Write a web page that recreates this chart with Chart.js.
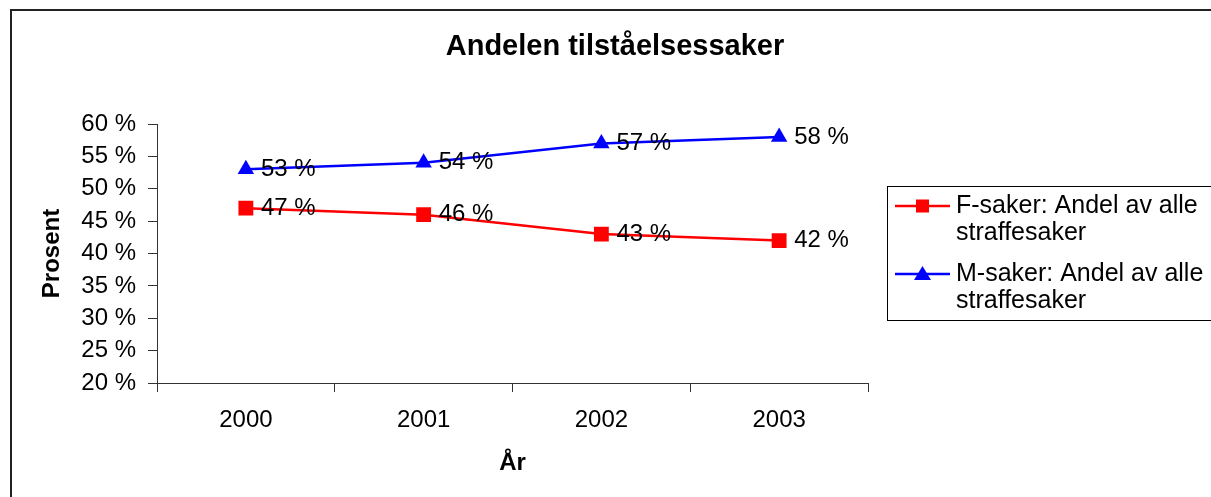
<!DOCTYPE html>
<html>
<head>
<meta charset="utf-8">
<script src="https://cdn.jsdelivr.net/npm/chart.js@4.4.1/dist/chart.umd.min.js"></script>
<style>
  html, body { margin: 0; padding: 0; background: #fff; overflow: hidden; }
  #wrap { width: 1211px; height: 497px; }
</style>
</head>
<body>
<div id="wrap"><canvas id="c" width="1211" height="497"></canvas></div>
<script>
const chartTitle = 'Andelen tilståelsessaker';
const xTitle = 'År';
const yTitle = 'Prosent';
const years = ['2000', '2001', '2002', '2003'];
const fSaker = [47, 46, 43, 42];
const mSaker = [53, 54, 57, 58];
const seriesLabels = ['F-saker: Andel av alle straffesaker', 'M-saker: Andel av alle straffesaker'];
const yMin = 20, yMax = 60, yStep = 5;

const FONT = '"Liberation Sans", Arial, sans-serif';
const AXIS = '#333333';

const framePlugin = {
  id: 'frame',
  beforeDraw(chart) {
    const ctx = chart.ctx;
    ctx.save();
    ctx.fillStyle = '#fff';
    ctx.fillRect(0, 0, chart.width, chart.height);
    ctx.strokeStyle = '#222';
    ctx.lineWidth = 2;
    ctx.strokeRect(11, 10, 1400, 800);
    ctx.restore();
  },
  afterDraw(chart) {
    const ctx = chart.ctx;
    const a = chart.chartArea;
    ctx.save();
    ctx.fillStyle = '#000';
    // title
    ctx.font = 'bold 29px ' + FONT;
    ctx.textAlign = 'center';
    ctx.textBaseline = 'middle';
    ctx.fillText(chartTitle, 615, 47);
    // x axis title
    ctx.font = 'bold 24px ' + FONT;
    ctx.fillText(xTitle, (a.left + a.right) / 2, 463);
    // y axis title
    ctx.save();
    ctx.translate(52, (a.top + a.bottom) / 2);
    ctx.rotate(-Math.PI / 2);
    ctx.fillText(yTitle, 0, 0);
    ctx.restore();

    // legend
    ctx.strokeStyle = '#000';
    ctx.lineWidth = 1;
    ctx.strokeRect(887.5, 186.5, 400, 134);
    ctx.font = '25px ' + FONT;
    ctx.textAlign = 'left';
    ctx.textBaseline = 'middle';
    const entryY = [206, 274];
    chart.data.datasets.forEach((ds, i) => {
      const y = entryY[i];
      ctx.strokeStyle = ds.borderColor;
      ctx.lineWidth = 2.5;
      ctx.beginPath();
      ctx.moveTo(895, y);
      ctx.lineTo(950, y);
      ctx.stroke();
      ctx.fillStyle = ds.backgroundColor;
      if (ds.pointStyle === 'rect') {
        ctx.fillRect(916, y - 6.5, 13, 13);
      } else {
        ctx.beginPath();
        ctx.moveTo(922.5, y - 8);
        ctx.lineTo(931, y + 6);
        ctx.lineTo(914, y + 6);
        ctx.closePath();
        ctx.fill();
      }
      // wrap text
      const words = ds.label.split(' ');
      const lines = [];
      let cur = '';
      words.forEach(w => {
        const t = cur ? cur + ' ' + w : w;
        if (ctx.measureText(t).width > 250 && cur) { lines.push(cur); cur = w; }
        else cur = t;
      });
      if (cur) lines.push(cur);
      ctx.fillStyle = '#000';
      lines.forEach((ln, k) => ctx.fillText(ln, 956, y + k * 27));
    });
    ctx.restore();
  },
  afterDatasetsDraw(chart) {
    const ctx = chart.ctx;
    ctx.save();
    ctx.font = '24px ' + FONT;
    ctx.fillStyle = '#000';
    ctx.textAlign = 'left';
    ctx.textBaseline = 'middle';
    chart.data.datasets.forEach((ds, i) => {
      const meta = chart.getDatasetMeta(i);
      meta.data.forEach((pt, j) => {
        ctx.fillText(ds.data[j] + ' %', pt.x + 15, pt.y);
      });
    });
    ctx.restore();
  }
};

new Chart(document.getElementById('c'), {
  type: 'line',
  data: {
    labels: years,
    datasets: [
      {
        label: seriesLabels[0],
        data: fSaker,
        borderColor: '#ff0000',
        backgroundColor: '#ff0000',
        borderWidth: 2.5,
        pointStyle: 'rect',
        pointRadius: 10.5,
        pointHoverRadius: 10.5,
        pointBorderWidth: 0,
        tension: 0
      },
      {
        label: seriesLabels[1],
        data: mSaker,
        borderColor: '#0000ff',
        backgroundColor: '#0000ff',
        borderWidth: 2.5,
        pointStyle: 'triangle',
        pointRadius: 9.5,
        pointHoverRadius: 9.5,
        pointBorderWidth: 0,
        tension: 0
      }
    ]
  },
  options: {
    responsive: false,
    animation: false,
    devicePixelRatio: 1,
    layout: { padding: { left: 0, top: 124, right: 343, bottom: 0 } },
    plugins: {
      legend: { display: false },
      title: { display: false },
      tooltip: { enabled: false }
    },
    scales: {
      x: {
        type: 'category',
        offset: true,
        grid: { offset: true, drawOnChartArea: false, drawTicks: true, tickLength: 9, color: AXIS },
        border: { display: true, color: AXIS, width: 1 },
        ticks: { color: '#000', font: { family: FONT, size: 24 }, padding: 14, maxRotation: 0 },
        afterFit(s) { s.height = 497 - 383; }
      },
      y: {
        min: yMin,
        max: yMax,
        grid: { drawOnChartArea: false, drawTicks: true, tickLength: 9, color: AXIS },
        border: { display: true, color: AXIS, width: 1 },
        ticks: {
          stepSize: yStep,
          color: '#000',
          font: { family: FONT, size: 24 },
          padding: 12,
          callback: v => v + ' %'
        },
        afterFit(s) { s.width = 157; }
      }
    }
  },
  plugins: [framePlugin]
});
</script>
</body>
</html>
